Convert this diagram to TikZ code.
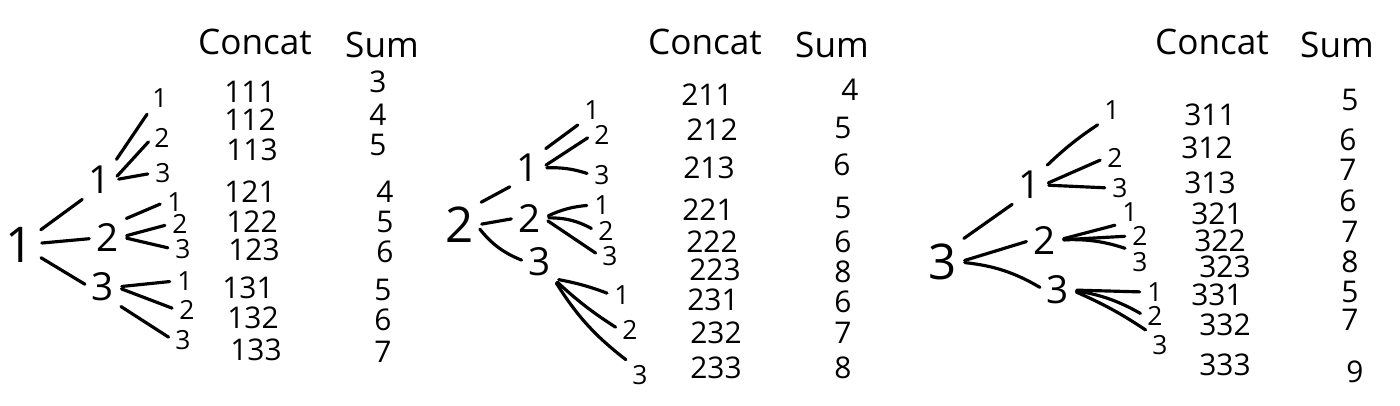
\documentclass[tikz,border=0pt]{standalone}
\usepackage{fontspec}
\setmainfont{Open Sans}
\tikzset{
	root/.style={inner sep=0.5pt, font=\fontsize{14}{14}\selectfont},
	mid/.style={inner sep=0.5pt, font=\fontsize{11}{11}\selectfont},
	leaf/.style={inner sep=0.5pt, font=\fontsize{7.5}{7.5}\selectfont},
	entry/.style={inner sep=0.5pt, font=\fontsize{8.5}{8.5}\selectfont},
	head/.style={inner sep=0.5pt, font=\fontsize{10}{10}\selectfont},
	edge/.style={line width=0.9pt, line cap=round, shorten <=1.5pt, shorten >=1.5pt}
}
\begin{document}
\begin{tikzpicture}[x=0.01cm, y=-0.01cm]
	\useasboundingbox (0,0) rectangle (1400,405);

	% first tree
	\node[head] (hc1) at (255,42) {Concat};
	\node[head] (hs1) at (382,45) {Sum};

	\node[root] (n1) at (20,245) {1};
	\node[mid] (n11) at (100,180) {1};
	\node[mid] (n12) at (108,237) {2};
	\node[mid] (n13) at (103,287) {3};

	\node[leaf] (n111) at (160,98) {1};
	\node[leaf] (n112) at (162,138) {2};
	\node[leaf] (n113) at (163,173) {3};
	\node[leaf] (n121) at (175,202) {1};
	\node[leaf] (n122) at (180,224) {2};
	\node[leaf] (n123) at (183,249) {3};
	\node[leaf] (n131) at (185,281) {1};
	\node[leaf] (n132) at (187,310) {2};
	\node[leaf] (n133) at (183,340) {3};

	\draw[edge] (n1) -- (n11.south west);
	\draw[edge] (n1) -- (n12);
	\draw[edge] (n1) -- (n13.west);
	\draw[edge] (n11.north east) -- (n111.south west);
	\draw[edge] (n11.east) -- (n112.west);
	\draw[edge] (n11.east) -- (n113.west);
	\draw[edge] (n12.north east) -- (n121.west);
	\draw[edge] (n12.east) -- (n122.west);
	\draw[edge] (n12.east) -- (n123.west);
	\draw[edge] (n13.east) -- (n131.west);
	\draw[edge] (n13.east) -- (n132.west);
	\draw[edge] (n13.south east) -- (n133.west);

	\node[entry] (c111) at (250,92) {111};
	\node[entry] (c112) at (250,120) {112};
	\node[entry] (c113) at (252,150) {113};
	\node[entry] (c121) at (250,192) {121};
	\node[entry] (c122) at (252,222) {122};
	\node[entry] (c123) at (254,250) {123};
	\node[entry] (c131) at (248,288) {131};
	\node[entry] (c132) at (253,318) {132};
	\node[entry] (c133) at (256,350) {133};

	\node[entry] (s111) at (378,82) {3};
	\node[entry] (s112) at (378,115) {4};
	\node[entry] (s113) at (378,145) {5};
	\node[entry] (s121) at (385,192) {4};
	\node[entry] (s122) at (385,222) {5};
	\node[entry] (s123) at (385,252) {6};
	\node[entry] (s131) at (383,290) {5};
	\node[entry] (s132) at (383,320) {6};
	\node[entry] (s133) at (383,352) {7};

	% second tree
	\node[head] (hc2) at (705,42) {Concat};
	\node[head] (hs2) at (832,45) {Sum};

	\node[root] (n2) at (460,225) {2};
	\node[mid] (n21) at (528,168) {1};
	\node[mid] (n22) at (530,218) {2};
	\node[mid] (n23) at (540,262) {3};

	\node[leaf] (n211) at (592,110) {1};
	\node[leaf] (n212) at (602,135) {2};
	\node[leaf] (n213) at (602,175) {3};
	\node[leaf] (n221) at (602,205) {1};
	\node[leaf] (n222) at (606,231) {2};
	\node[leaf] (n223) at (610,256) {3};
	\node[leaf] (n231) at (622,295) {1};
	\node[leaf] (n232) at (630,330) {2};
	\node[leaf] (n233) at (640,375) {3};

	\draw[edge] (n2.north east) -- (n21.south west);
	\draw[edge] (n2.east) -- (n22.west);
	\draw[edge] (n2.east) to[bend right=15] (n23.west);
	\draw[edge] (n21.north east) -- (n211.south west);
	\draw[edge] (n21.east) -- (n212.west);
	\draw[edge] (n21.east) to[bend left=10] (n213.west);
	\draw[edge] (n22.east) to[bend left=10] (n221.west);
	\draw[edge] (n22.east) to[bend left=15] (n222.west);
	\draw[edge] (n22.east) -- (n223.west);
	\draw[edge] (n23.south east) to[bend left=5] (n231.west);
	\draw[edge] (n23.south east) to[bend right=5] (n232.west);
	\draw[edge] (n23.south east) to[bend right=10] (n233.north west);

	\node[entry] (c211) at (707,95) {211};
	\node[entry] (c212) at (712,130) {212};
	\node[entry] (c213) at (709,168) {213};
	\node[entry] (c221) at (708,210) {221};
	\node[entry] (c222) at (712,242) {222};
	\node[entry] (c223) at (715,270) {223};
	\node[entry] (c231) at (713,300) {231};
	\node[entry] (c232) at (716,333) {232};
	\node[entry] (c233) at (716,368) {233};

	\node[entry] (s211) at (850,90) {4};
	\node[entry] (s212) at (843,128) {5};
	\node[entry] (s213) at (842,165) {6};
	\node[entry] (s221) at (843,208) {5};
	\node[entry] (s222) at (843,242) {6};
	\node[entry] (s223) at (843,272) {8};
	\node[entry] (s231) at (843,302) {6};
	\node[entry] (s232) at (843,333) {7};
	\node[entry] (s233) at (843,368) {8};

	% third tree
	\node[head] (hc3) at (1212,42) {Concat};
	\node[head] (hs3) at (1337,45) {Sum};

	\node[root] (n3) at (943,262) {3};
	\node[mid] (n31) at (1030,185) {1};
	\node[mid] (n32) at (1045,240) {2};
	\node[mid] (n33) at (1058,290) {3};

	\node[leaf] (n311) at (1112,110) {1};
	\node[leaf] (n312) at (1115,158) {2};
	\node[leaf] (n313) at (1120,188) {3};
	\node[leaf] (n321) at (1130,212) {1};
	\node[leaf] (n322) at (1140,236) {2};
	\node[leaf] (n323) at (1140,262) {3};
	\node[leaf] (n331) at (1155,292) {1};
	\node[leaf] (n332) at (1155,316) {2};
	\node[leaf] (n333) at (1160,345) {3};

	\draw[edge] (n3.north east) -- (n31.south west);
	\draw[edge] (n3.east) -- (n32.west);
	\draw[edge] (n3.east) to[bend left=12] (n33.west);
	\draw[edge] (n31.north east) to[bend left=5] (n311.south west);
	\draw[edge] (n31.east) -- (n312.west);
	\draw[edge] (n31.east) -- (n313.west);
	\draw[edge] (n32.east) -- (n321.south west);
	\draw[edge] (n32.east) -- (n322.west);
	\draw[edge] (n32.east) to[bend left=10] (n323.north west);
	\draw[edge] (n33.east) -- (n331.west);
	\draw[edge] (n33.east) to[bend left=10] (n332.west);
	\draw[edge] (n33.east) to[bend left=5] (n333.north west);

	\node[entry] (c311) at (1210,115) {311};
	\node[entry] (c312) at (1207,148) {312};
	\node[entry] (c313) at (1210,183) {313};
	\node[entry] (c321) at (1217,214) {321};
	\node[entry] (c322) at (1220,241) {322};
	\node[entry] (c323) at (1225,267) {323};
	\node[entry] (c331) at (1217,295) {331};
	\node[entry] (c332) at (1225,325) {332};
	\node[entry] (c333) at (1225,365) {333};

	\node[entry] (s311) at (1350,100) {5};
	\node[entry] (s312) at (1348,140) {6};
	\node[entry] (s313) at (1348,170) {7};
	\node[entry] (s321) at (1348,201) {6};
	\node[entry] (s322) at (1350,232) {7};
	\node[entry] (s323) at (1350,262) {8};
	\node[entry] (s331) at (1350,292) {5};
	\node[entry] (s332) at (1350,320) {7};
	\node[entry] (s333) at (1355,372) {9};
\end{tikzpicture}
\end{document}
